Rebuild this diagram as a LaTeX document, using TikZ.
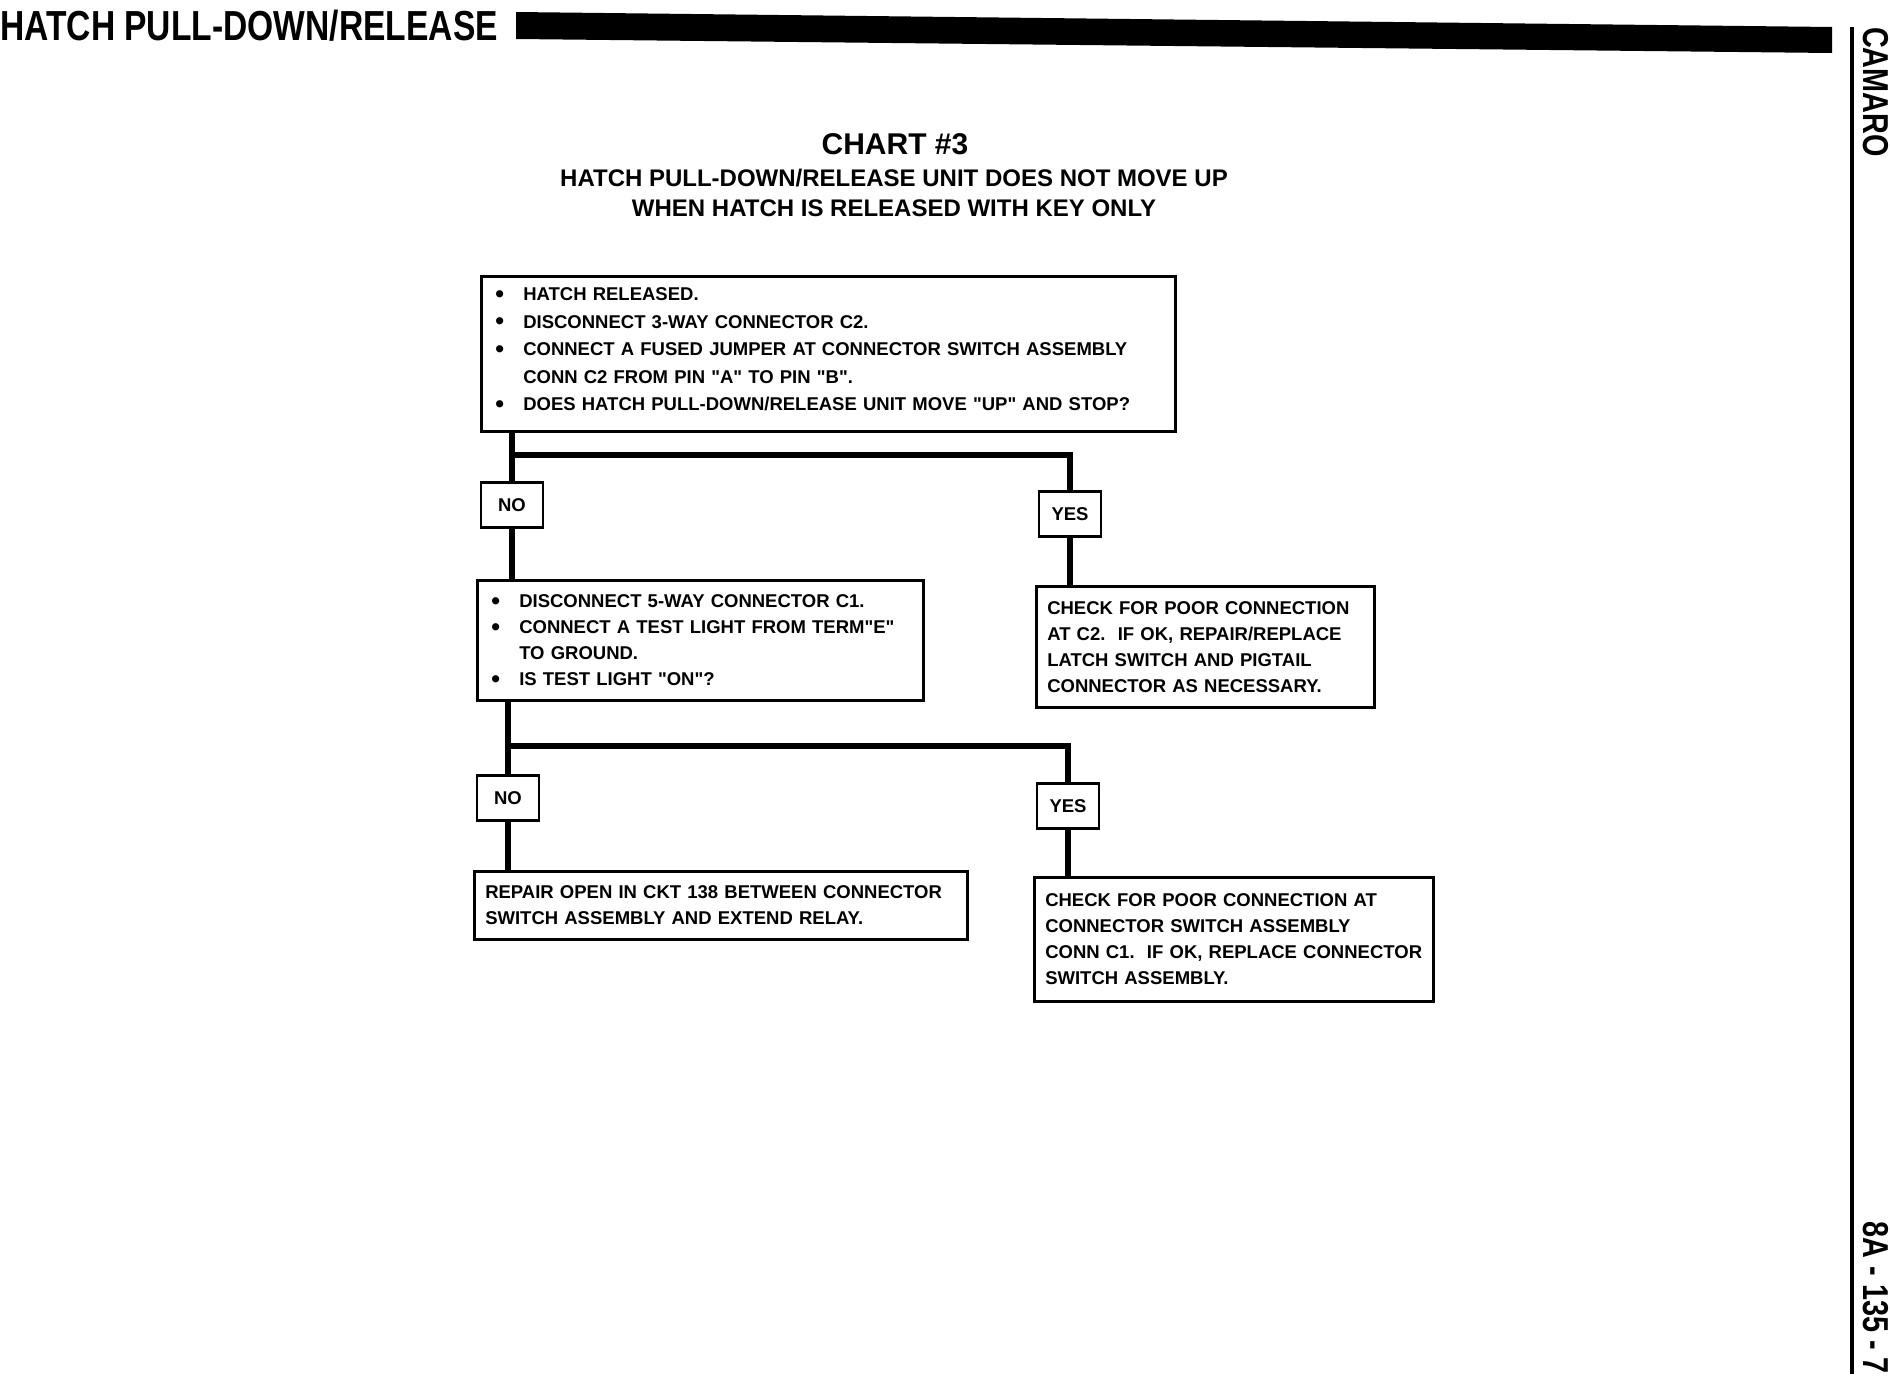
\documentclass[tikz,border=0pt]{standalone}
\usepackage{fontspec}
\setmainfont{Liberation Sans}
\newfontfamily\headfont{Liberation Sans}[FakeStretch=0.8]
\newcommand{\boxfont}{\fontsize{18.5}{26}\selectfont\bfseries}
\newcommand{\bul}{\hspace*{3pt}\makebox[28pt][l]{\smash{\raisebox{-1.5pt}{\fontsize{25}{0}\selectfont\textbullet}}}}
\newcommand{\ind}{\hspace*{31pt}}
\newcommand{\qq}{\textquotedbl}

\begin{document}
\begin{tikzpicture}[x=1pt,y=-1pt,
    chk/.style={draw,line width=2.5pt,anchor=north west,align=left,inner xsep=11pt,inner ysep=0pt,font=\boxfont},
    tag/.style={draw,line width=2.5pt,minimum width=62pt,minimum height=45pt,inner sep=0pt,font=\boxfont},
    wire/.style={line width=6pt}]
  \useasboundingbox (0,0) rectangle (1890,1392);
  % page frame
  \node[anchor=base west,inner sep=0pt,font=\headfont\bfseries\fontsize{42}{42}\selectfont] (head) at (0,40) {HATCH PULL-DOWN/RELEASE};
  \fill (516,12) -- (1832,27) -- (1832,53) -- (516,39) -- cycle;
  \draw[line width=4pt] (1852,27) -- (1852,1374);
  \node[rotate=-90,anchor=north west,inner sep=0pt,font=\headfont\bfseries\fontsize{36}{36}\selectfont] (car) at (1889,27) {CAMARO};
  \node[rotate=-90,anchor=north east,inner sep=0pt,font=\headfont\bfseries\fontsize{36}{36}\selectfont] (page) at (1889,1374) {8A - 135 - 7};
  % title
  \node[anchor=base,font=\bfseries\fontsize{30}{30}\selectfont] (chart) at (895,154) {CHART \#3};
  \node[anchor=base,font=\bfseries\fontsize{24}{24}\selectfont] (sub1) at (894,186) {HATCH PULL-DOWN/RELEASE UNIT DOES NOT MOVE UP};
  \node[anchor=base,font=\bfseries\fontsize{24}{24}\selectfont] (sub2) at (894,216) {WHEN HATCH IS RELEASED WITH KEY ONLY};
  % checks
  \node[chk,text width=672pt,minimum height=155pt,font=\bfseries\fontsize{18.5}{27.5}\selectfont] (hatch) at (480,275)
    {\bul HATCH RELEASED.\\
     \bul DISCONNECT 3-WAY CONNECTOR C2.\\
     \bul CONNECT A FUSED JUMPER AT CONNECTOR SWITCH ASSEMBLY\\
     \ind CONN C2 FROM PIN \qq A\qq\ TO PIN \qq B\qq.\\
     \bul DOES HATCH PULL-DOWN/RELEASE UNIT MOVE \qq UP\qq\ AND STOP?\rule[-9pt]{0pt}{0pt}};
  \node[chk,text width=424pt,minimum height=120pt] (light) at (476,579)
    {\bul DISCONNECT 5-WAY CONNECTOR C1.\\
     \bul CONNECT A TEST LIGHT FROM TERM\qq E\qq\\
     \ind TO GROUND.\\
     \bul IS TEST LIGHT \qq ON\qq?};
  \node[chk,text width=316pt,minimum height=121pt] (latch) at (1035,585)
    {CHECK FOR POOR CONNECTION\\
     AT C2.\ \ IF OK, REPAIR/REPLACE\\
     LATCH SWITCH AND PIGTAIL\\
     CONNECTOR AS NECESSARY.};
  \node[chk,text width=471pt,minimum height=68pt] (ckt) at (473,870)
    {REPAIR OPEN IN CKT 138 BETWEEN CONNECTOR\\
     SWITCH ASSEMBLY AND EXTEND RELAY.};
  \node[chk,text width=377pt,minimum height=124pt] (conn) at (1033,876)
    {CHECK FOR POOR CONNECTION AT\\
     CONNECTOR SWITCH ASSEMBLY\\
     CONN C1.\ \ IF OK, REPLACE CONNECTOR\\
     SWITCH ASSEMBLY.};
  % answers
  \foreach \n/\x/\y/\t in {no1/512/505/NO, yes1/1070/514/YES, no2/508/798/NO, yes2/1068/806/YES}
    \node[tag] (\n) at (\x,\y) {\t};
  \coordinate (fork1) at (512,455);
  \coordinate (fork2) at (508,746);
  % wires
  \draw[wire] (hatch.south -| no1) -- (no1.north) (no1 |- fork1) -| (yes1.north);
  \draw[wire] (no1.south) -- (light.north -| no1);
  \draw[wire] (yes1.south) -- (latch.north -| yes1);
  \draw[wire] (light.south -| no2) -- (no2.north) (no2 |- fork2) -| (yes2.north);
  \draw[wire] (no2.south) -- (ckt.north -| no2);
  \draw[wire] (yes2.south) -- (conn.north -| yes2);
\end{tikzpicture}
\end{document}
